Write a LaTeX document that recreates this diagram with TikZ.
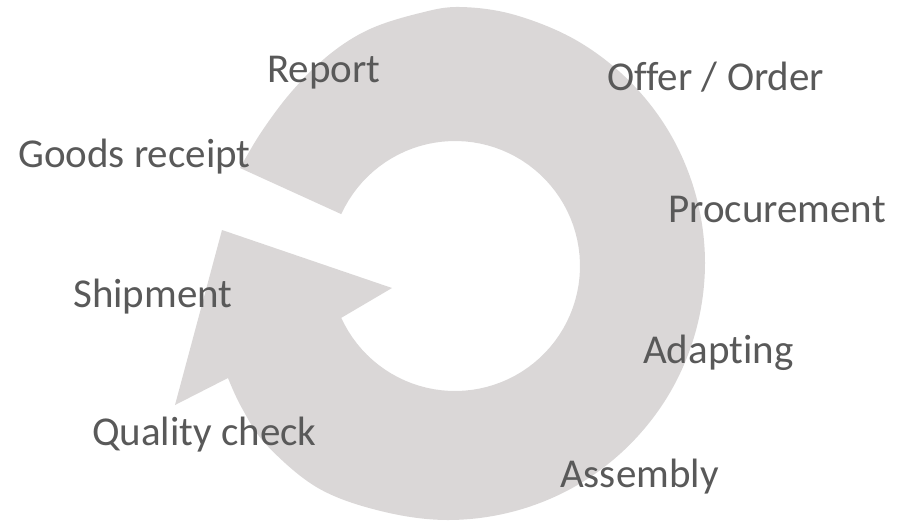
\documentclass[tikz,border=0pt]{standalone}
\usepackage{fontspec}
\setmainfont[Ligatures={NoCommon}]{Carlito}
\usepackage{tikz}
\definecolor{ringgrey}{RGB}{218,215,215}
\definecolor{labelgrey}{RGB}{89,89,89}
\tikzset{
    cyclering/.style={
        fill=ringgrey,
        draw=none
    },
    steplabel/.style={
        anchor=base west,
        inner sep=0pt,
        text=labelgrey,
        font=\fontsize{41}{49}\selectfont
    }
}

\begin{document}
\begin{tikzpicture}[x=1pt,y=1pt]
    \useasboundingbox (0,0) rectangle (897,-523);
    % key points of the arrow
    \coordinate (tailout) at (240,-168);
    \coordinate (tailin)  at (341,-214);
    \coordinate (headout) at (228,-378);
    \coordinate (barbout) at (175,-405);
    \coordinate (tip)     at (222,-230);
    \coordinate (barbin)  at (392,-288);
    \coordinate (headin)  at (341,-318);
    % the big circular arrow
    \fill[cyclering] (tailout)
        -- plot[smooth, tension=0.6] coordinates {
            (240,-168) (262,-131) (293,-90) (330,-54) (370,-29) (420,-13)
            (460,-7) (514.5,-14.8) (576.5,-40.4) (629.7,-81.3) (670.6,-134.5)
            (696.2,-196.5) (705,-263) (696.2,-329.5) (670.6,-391.5)
            (629.7,-444.7) (576.5,-485.6) (514.5,-511.2) (448,-520)
            (381.5,-511.2) (318,-488) (266.3,-444.7) (241.6,-407.5) (228,-378)}
        -- (barbout) -- (tip) -- (barbin) -- (headin)
        -- plot[domain=204.3:515.3, samples=90] ({455+125*cos(\x)}, {-266+125*sin(\x)})
        -- (tailin) -- cycle;
    % steps
    \node[steplabel] (report)  at (267,-82)  {Report};
    \node[steplabel] (offer)   at (607,-90)  {Offer / Order};
    \node[steplabel] (goods)   at (18,-167)  {Goods receipt};
    \node[steplabel] (procure) at (668,-222) {Procurement};
    \node[steplabel] (ship)    at (73,-307)  {Shipment};
    \node[steplabel] (adapt)   at (643,-363) {Adapting};
    \node[steplabel] (quality) at (92,-445)  {Quality check};
    \node[steplabel] (assem)   at (560,-487) {Assembly};
\end{tikzpicture}
\end{document}
